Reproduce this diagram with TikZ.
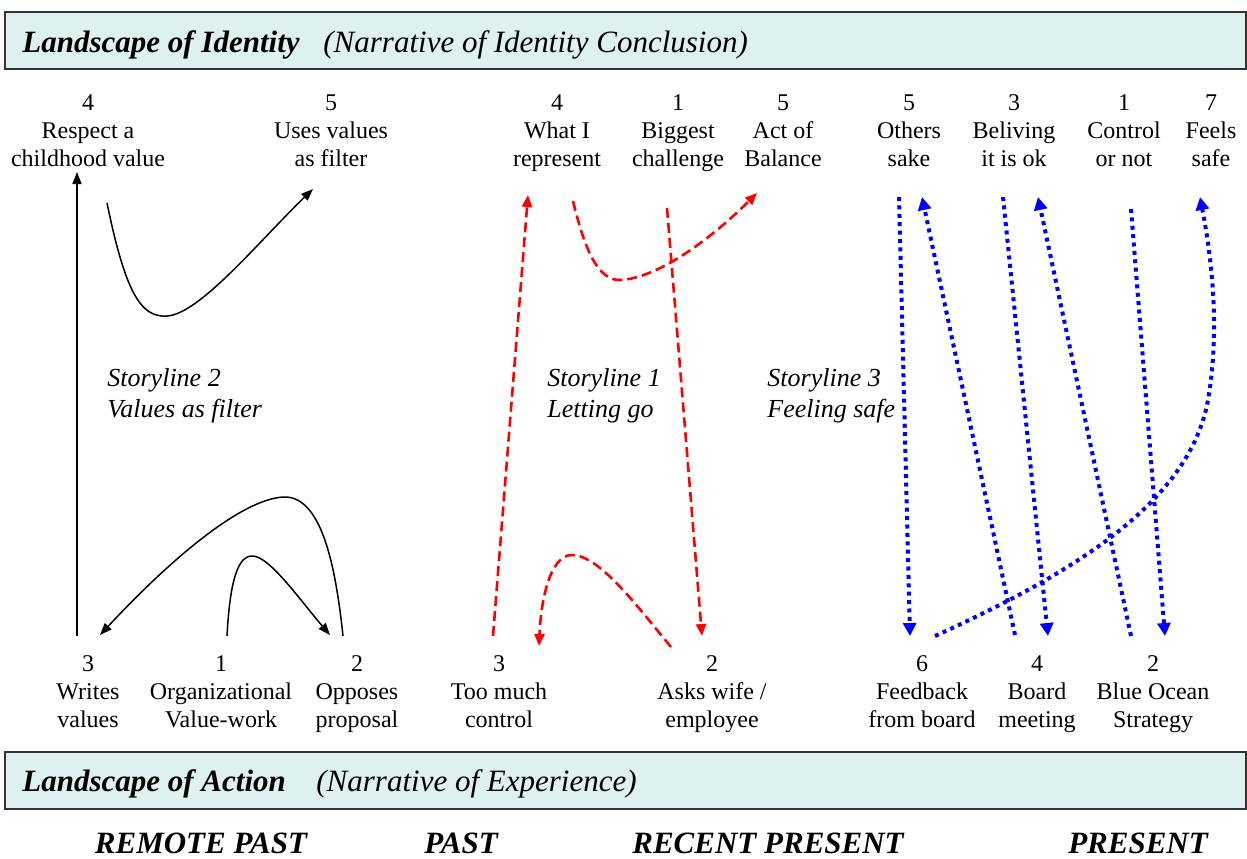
\documentclass[tikz,border=0pt]{standalone}
\usepackage{fontspec}
\setmainfont{Liberation Serif}
\usepackage{tikz}
\usetikzlibrary{positioning}
\usetikzlibrary{arrows.meta}

\definecolor{bandfill}{RGB}{223,240,240}

\tikzset{
  lbl/.style={align=center, inner sep=0pt, font=\fontsize{12}{14}\selectfont},
  story/.style={align=left, anchor=west, inner sep=0pt, font=\fontsize{13}{15.5}\selectfont\itshape},
  head/.style={anchor=base west, inner sep=0pt, font=\fontsize{15.5}{18}\selectfont\bfseries\itshape},
  sub/.style={anchor=base west, inner sep=0pt, font=\fontsize{15.5}{18}\selectfont\itshape},
  era/.style={anchor=base, inner sep=0pt, font=\fontsize{15.5}{18}\selectfont\bfseries\itshape},
  band/.style={draw=black!80, fill=bandfill, line width=0.9pt},
  sline/.style={line width=0.75pt, -{Triangle[length=6pt,width=4.5pt]}},
  rline/.style={red, line width=1.3pt, dash pattern=on 5pt off 2.5pt, -{Triangle[length=6pt,width=5pt]}},
  bline/.style={blue, line width=2pt, dash pattern=on 2pt off 2.2pt, -{Triangle[length=6.5pt,width=6.5pt]}}
}

\begin{document}
\begin{tikzpicture}[x=0.5pt,y=-0.5pt]
\useasboundingbox (0,0) rectangle (1247,858);

% bands
\draw[band] (5,12) rectangle (1246,69);
\node[head] (loi) at (22,52) {Landscape of Identity};
\node[sub] (loisub) at (323,52) {(Narrative of Identity Conclusion)};
\draw[band] (5,752) rectangle (1246,809);
\node[head] (loa) at (22,791) {Landscape of Action};
\node[sub] (loasub) at (316,791) {(Narrative of Experience)};

\node[era] (remote) at (201,853) {REMOTE PAST};
\node[era] (past) at (461,853) {PAST};
\node[era] (recent) at (768,853) {RECENT PRESENT};
\node[era] (present) at (1138,853) {PRESENT};

% identity labels
\node[lbl] (childhood) at (88,133) {\strut4\\Respect a\\childhood value\strut};
\node[lbl] (filter) at (331,133) {\strut5\\Uses values\\as filter\strut};
\node[lbl] (represent) at (557,133) {\strut4\\What I\\represent\strut};
\node[lbl] (challenge) at (678,133) {\strut1\\Biggest\\challenge\strut};
\node[lbl] (balance) at (783,133) {\strut5\\Act of\\Balance\strut};
\node[lbl] (others) at (909,133) {\strut5\\Others\\sake\strut};
\node[lbl] (beliving) at (1014,133) {\strut3\\Beliving\\it is ok\strut};
\node[lbl] (ctrlornot) at (1124,133) {\strut1\\Control\\or not\strut};
\node[lbl] (feelssafe) at (1211,133) {\strut7\\Feels\\safe\strut};

% action labels
\node[lbl] (writes) at (88,694) {\strut3\\Writes\\values\strut};
\node[lbl] (orgwork) at (221,694) {\strut1\\Organizational\\Value-work\strut};
\node[lbl] (opposes) at (357,694) {\strut2\\Opposes\\proposal\strut};
\node[lbl] (toomuch) at (499,694) {\strut3\\Too much\\control\strut};
\node[lbl] (askswife) at (712,694) {\strut2\\Asks wife /\\employee\strut};
\node[lbl] (feedback) at (922,694) {\strut6\\Feedback\\from board\strut};
\node[lbl] (board) at (1037,694) {\strut4\\Board\\meeting\strut};
\node[lbl] (blueocean) at (1153,694) {\strut2\\Blue Ocean\\Strategy\strut};

\node[story] (story2) at (107,396) {Storyline 2\\Values as filter};
\node[story] (story1) at (547,396) {Storyline 1\\Letting go};
\node[story] (story3) at (767,396) {Storyline 3\\Feeling safe};

% storyline 2
\coordinate (a1) at (77,636);
\coordinate (a2) at (77,172);
\coordinate (a3) at (107,203);
\coordinate (a4) at (313,189);
\coordinate (a5) at (343,636);
\coordinate (a6) at (100,635);
\coordinate (a7) at (227,636);
\coordinate (a8) at (330,635);
\draw[sline] (a1) -- (a2);
\draw[sline] (a3) .. controls (125,290) and (140,318) .. (167,316)
  .. controls (200,314) and (260,240) .. (a4);
\draw[sline] (a5) .. controls (335,560) and (320,495) .. (283,497)
  .. controls (240,500) and (170,560) .. (a6);
\draw[sline] (a7) .. controls (230,580) and (238,555) .. (253,556)
  .. controls (270,557) and (300,600) .. (a8);

% storyline 1
\coordinate (b1) at (493,636);
\coordinate (b2) at (528,195);
\coordinate (b3) at (573,201);
\coordinate (b4) at (757,193);
\coordinate (b5) at (667,208);
\coordinate (b6) at (702,636);
\coordinate (b7) at (671,647);
\coordinate (b8) at (539,646);
\draw[rline] (b1) -- (b2);
\draw[rline] (b3) .. controls (585,250) and (598,282) .. (622,280)
  .. controls (665,276) and (720,230) .. (b4);
\draw[rline] (b5) -- (b6);
\draw[rline] (b7) .. controls (640,610) and (600,555) .. (572,555)
  .. controls (550,555) and (541,600) .. (b8);

% storyline 3
\coordinate (c1) at (899,197);
\coordinate (c2) at (910,636);
\coordinate (c3) at (1015,635);
\coordinate (c4) at (922,197);
\coordinate (c5) at (1003,197);
\coordinate (c6) at (1048,636);
\coordinate (c7) at (1131,636);
\coordinate (c8) at (1038,197);
\coordinate (c9) at (1131,209);
\coordinate (c10) at (1165,636);
\coordinate (c11) at (935,636);
\coordinate (c12) at (1200,197);
\draw[bline] (c1) -- (c2);
\draw[bline] (c3) -- (c4);
\draw[bline] (c5) -- (c6);
\draw[bline] (c7) -- (c8);
\draw[bline] (c9) -- (c10);
\draw[bline] (c11) .. controls (1080,570) and (1190,500) .. (1208,400)
  .. controls (1220,330) and (1212,260) .. (c12);

\end{tikzpicture}
\end{document}
